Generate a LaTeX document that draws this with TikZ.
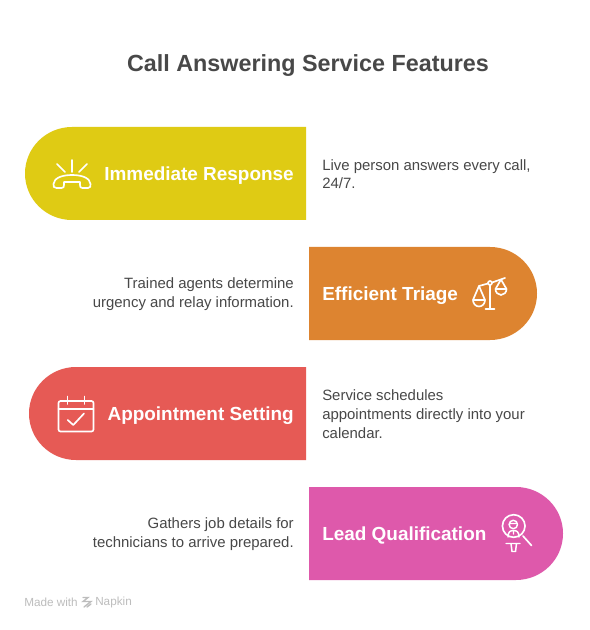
\documentclass[tikz,border=0pt]{standalone}
\usepackage{fontspec}
\setmainfont{Liberation Sans}
\definecolor{cyellow}{HTML}{DFCB14}
\definecolor{corange}{HTML}{DD8430}
\definecolor{cred}{HTML}{E65A55}
\definecolor{cpink}{HTML}{DE59AB}
\definecolor{ctext}{HTML}{484848}
\definecolor{cfoot}{HTML}{BDBDBD}
\tikzset{
  titletext/.style={inner sep=0pt,text=ctext,font=\fontsize{17.5}{21}\selectfont\bfseries},
  headtext/.style={inner sep=0pt,text=white,font=\fontsize{14.2}{17}\selectfont\bfseries},
  bodytext/.style={inner sep=0pt,text=ctext,font=\fontsize{11.2}{14}\selectfont},
  foottext/.style={inner sep=0pt,text=cfoot,font=\fontsize{8.8}{10}\selectfont},
  iconline/.style={draw=white,line width=1.25pt,line cap=round,line join=round,fill=none},
}
\begin{document}
\begin{tikzpicture}[x=0.75pt,y=-0.75pt]
\useasboundingbox[fill=white] (0,0) rectangle (589,630);
% bands
\fill[cyellow] (306,127) -- (72,127) arc[start angle=90,end angle=270,x radius=47,y radius=-46.5] -- (306,220) -- cycle;
\fill[corange] (309,247) -- (490,247) arc[start angle=90,end angle=-90,x radius=47,y radius=-46.5] -- (309,340) -- cycle;
\fill[cred] (306,367) -- (76,367) arc[start angle=90,end angle=270,x radius=47,y radius=-46.5] -- (306,460) -- cycle;
\fill[cpink] (309,487) -- (516,487) arc[start angle=90,end angle=-90,x radius=47,y radius=-46.5] -- (309,580) -- cycle;
% texts
\node[titletext,anchor=base] (title) at (308,72) {Call Answering Service Features};
\node[headtext,anchor=base east] (h1) at (294,180.5) {Immediate Response};
\node[headtext,anchor=base west] (h2) at (322,300.5) {Efficient Triage};
\node[headtext,anchor=base east] (h3) at (294,420.5) {Appointment Setting};
\node[headtext,anchor=base west] (h4) at (322,540.5) {Lead Qualification};
\node[bodytext,anchor=west,align=left] (b1) at (322,174) {Live person answers every call,\\24/7.};
\node[bodytext,anchor=east,align=right] (b2) at (294,294) {Trained agents determine\\urgency and relay information.};
\node[bodytext,anchor=west,align=left] (b3) at (322,414) {Service schedules\\appointments directly into your\\calendar.};
\node[bodytext,anchor=east,align=right] (b4) at (294,534) {Gathers job details for\\technicians to arrive prepared.};
\node[foottext,anchor=west] (f1) at (24,602) {Made with};
\node[foottext,anchor=west] (f2) at (95,602.5) {Napkin};
% napkin mark
\draw[cfoot,line width=1pt,line cap=round] (83,597.5) -- (88,597.5) -- (83,601.5) -- (91,601.5) -- (84,607) (87,607) -- (91,604);
% phone icon
\draw[iconline] (72,160) -- (72,172) (57,164) -- (65,172) (87,164) -- (79,172);
\draw[iconline] (56.5,188) -- (61.5,188) .. controls (63.5,188) and (64,187) .. (64,185) -- (64,182) -- (80,182) -- (80,185) .. controls (80,187) and (80.5,188) .. (82.5,188) -- (88,188) .. controls (90,188) and (91,186.5) .. (90.5,184) .. controls (90,178) and (82,175) .. (72,175) .. controls (62,175) and (54,178) .. (53.5,184) .. controls (53,186.5) and (54,188) .. (56.5,188) -- cycle;
% scales icon
\draw[iconline] (490,285) -- (490,309) (485.5,309) -- (494.5,309) (479,286) -- (488,283.5) (492,282.5) -- (505,278);
\draw[iconline] (490,283) circle[radius=2];
\draw[iconline] (473,300) -- (479,286) -- (485,300) (473,300) -- (485,300) arc[start angle=0,end angle=-180,radius=6,y radius=-6.5] -- cycle;
\draw[iconline] (495.5,289) -- (501,279.5) -- (506.5,289) (495.5,289) -- (506.5,289) arc[start angle=0,end angle=-180,radius=5.5,y radius=-6] -- cycle;
% calendar icon
\draw[iconline,rounded corners=1.5pt] (58.5,401) rectangle (93.5,431.5);
\draw[iconline] (58.5,409) -- (93.5,409) (67.5,396.5) -- (67.5,404) (84.5,396.5) -- (84.5,404);
\draw[iconline] (67.7,420) -- (73.3,425) -- (84,413.5);
% lead icon
\draw[iconline] (513.7,526) circle[radius=11.3];
\draw[iconline] (523,536) -- (531.5,545.5);
\draw[iconline,line width=1.1pt] (513.3,524.5) circle[radius=4.2] (509.5,523.5) -- (517,523.5);
\draw[iconline,line width=1.1pt] (508,537) .. controls (508,532) and (510,530.5) .. (513.5,530.5) .. controls (517,530.5) and (519,532) .. (519,537) (513.5,530.5) -- (513.5,534);
\draw[iconline,line width=1.1pt] (506,543.5) -- (520,543.5) (511,543.5) -- (512,551.5) -- (515.5,551.5) -- (516.5,543.5);
\end{tikzpicture}
\end{document}
